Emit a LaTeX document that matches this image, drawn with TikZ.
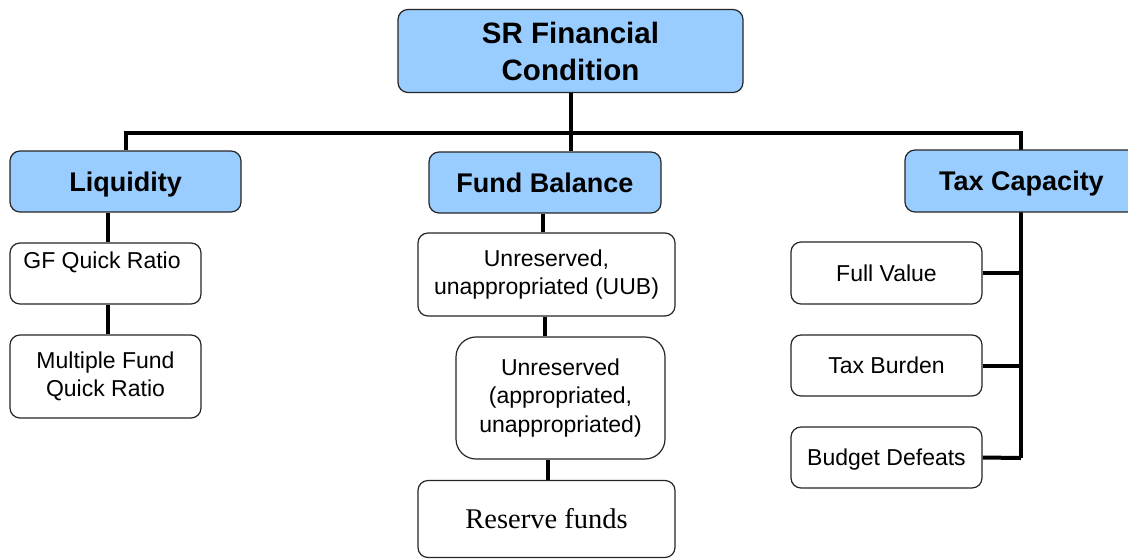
\documentclass[tikz,border=0pt]{standalone}
\usepackage{fontspec}
\setmainfont{Liberation Sans}
\newfontfamily\seriffont{Liberation Serif}
\usetikzlibrary{backgrounds}
\definecolor{hdrblue}{HTML}{99CCFF}
\tikzset{
  hdr/.style={draw=black!85, line width=1.2pt, fill=hdrblue, rounded corners=10pt, inner sep=0pt, font=\fontsize{27}{32}\selectfont\bfseries, align=center},
  hdrline/.style={text height=24.3pt, text depth=5pt},
  leafline/.style={text height=20.7pt, text depth=4.2pt},
  serifline/.style={text height=25pt, text depth=6.1pt},
  topbox/.style={hdr, font=\fontsize{29.5}{37}\selectfont\bfseries},
  leaf/.style={draw=black!85, line width=1.2pt, fill=white, rounded corners=10pt, inner sep=0pt, font=\fontsize{23}{28.5}\selectfont, align=center},
  txt/.style={inner sep=0pt, font=\fontsize{23}{28.5}\selectfont, align=center},
  conn/.style={line width=4pt, black},
}
\begin{document}
\begin{tikzpicture}[x=1pt,y=-1pt]
\useasboundingbox (0,0) rectangle (1128,558);
\clip (0,0) rectangle (1128,558);
% header nodes
\node[topbox, minimum width=345pt, minimum height=83pt] (top) at (570.5,51) {SR Financial\\Condition};
\node[hdr, hdrline, minimum width=231pt, minimum height=61pt] (liq) at (125.5,181.5) {Liquidity};
\node[hdr, hdrline, minimum width=232pt, minimum height=61pt] (fb) at (545,182.5) {Fund Balance};
\node[hdr, hdrline, minimum width=233pt, minimum height=62pt] (tax) at (1021.5,181) {Tax Capacity};
% liquidity leaves
\node[leaf, minimum width=191pt, minimum height=61pt] (gf) at (105.5,273.5) {};
\node[txt, leafline] (gftxt) at (102,260) {GF Quick Ratio};
\node[leaf, minimum width=191pt, minimum height=83pt] (mf) at (105.5,376.5) {Multiple Fund\\Quick Ratio};
% fund balance leaves
\node[leaf, minimum width=257pt, minimum height=83pt] (uub) at (546.5,274.5) {Unreserved,\\unappropriated (UUB)};
\node[leaf, minimum width=209pt, minimum height=122pt, rounded corners=20pt] (unr) at (560.5,398) {Unreserved\\(appropriated,\\unappropriated)};
\node[leaf, serifline, minimum width=257pt, minimum height=77pt, font=\seriffont\fontsize{28.5}{34}\selectfont] (res) at (546.5,519) {Reserve funds};
% tax leaves
\node[leaf, leafline, minimum width=191pt, minimum height=62pt] (fv) at (886.5,273) {Full Value};
\node[leaf, leafline, minimum width=191pt, minimum height=61pt] (tb) at (886.5,365.5) {Tax Burden};
\node[leaf, leafline, minimum width=191pt, minimum height=61pt] (bd) at (886.5,457.5) {Budget Defeats};
% bus coordinates
\coordinate (busL) at (125.5,133);
\coordinate (busR) at (1021,133);
\coordinate (taxend) at (1021,458);
\begin{scope}[on background layer]
  \fill[white] (0,0) rectangle (1128,558);
  \draw[conn] (top.south -| 571,0) -- (fb.north -| 571,0);
  \draw[conn] (liq.north -| busL) -- (busL) -- (busR) -- (taxend);
  \draw[conn] (liq.south -| 108,0) -- (gf.north -| 108,0);
  \draw[conn] (gf.south -| 108,0) -- (mf.north -| 108,0);
  \draw[conn] (fb.south -| 543,0) -- (uub.north -| 543,0);
  \draw[conn] (uub.south -| 545,0) -- (unr.north -| 545,0);
  \draw[conn] (unr.south -| 548,0) -- (res.north -| 548,0);
  \draw[conn] (fv.east) -- (fv.east -| taxend);
  \draw[conn] (tb.east) -- (tb.east -| taxend);
  \draw[conn] (bd.east) -- (taxend);
\end{scope}
\end{tikzpicture}
\end{document}
